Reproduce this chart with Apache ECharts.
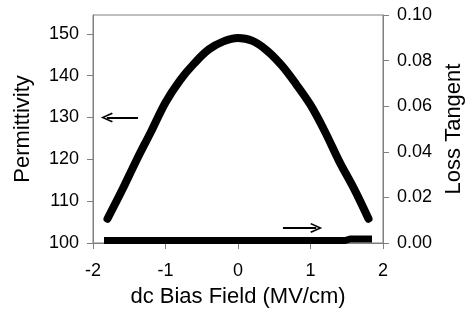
<!DOCTYPE html>
<html>
<head>
<meta charset="utf-8">
<script src="https://cdn.jsdelivr.net/npm/echarts@6/dist/echarts.min.js"></script>
<style>
  html, body { margin: 0; padding: 0; background: #ffffff; }
  #chart { width: 466px; height: 320px; }
</style>
</head>
<body>
<div id="chart"></div>
<script>
// dc bias field sweep (MV/cm) and measured permittivity
const biasField = [-1.8, -1.6, -1.4, -1.2, -1.0, -0.8, -0.6, -0.4, -0.2, 0.0,
                   0.2, 0.4, 0.6, 0.8, 1.0, 1.2, 1.4, 1.6, 1.8];
const permittivity = [105.8, 112.6, 119.8, 126.6, 133.6, 138.9, 143.0, 146.3, 148.2, 149.0,
                      148.3, 146.0, 142.5, 138.0, 133.0, 126.6, 119.4, 113.0, 105.8];

// loss tangent sweep
const lossField = [-1.8, -1.2, -0.6, 0.0, 0.6, 1.2, 1.4, 1.55, 1.8];
const lossTangent = [0.0011, 0.0011, 0.0011, 0.0011, 0.0011, 0.0011, 0.0011, 0.0018, 0.0018];

// tick labels
const fieldTicks = [-2, -1, 0, 1, 2];
const permTicks = [100, 110, 120, 130, 140, 150];
const lossTicks = [0, 0.02, 0.04, 0.06, 0.08, 0.10];

// arrow annotations pointing each curve to its axis
const permArrow = [[-1.81, 130], [-1.38, 130]];
const lossArrow = [[0.62, 0.0066], [1.08, 0.0066]];

const FONT = 'Liberation Sans, Arial, Helvetica, sans-serif';
const AXIS_GRAY = '#808080';
// open chevron arrowhead, pointing up in its own frame
const chevron = 'path://M0,11 L5,0 L10,11 L8.6,11.8 L5,3.6 L1.4,11.8 Z';

const chart = echarts.init(document.getElementById('chart'), null, { renderer: 'canvas' });

chart.setOption({
  animation: false,
  backgroundColor: '#ffffff',
  grid: {
    left: 93, right: 83, top: 15, bottom: 77,
    outerBoundsMode: 'none',
    containLabel: false,
    show: true, borderColor: AXIS_GRAY, borderWidth: 1, backgroundColor: 'transparent'
  },
  xAxis: {
    type: 'value',
    min: -2, max: 2, interval: 1,
    name: 'dc Bias Field (MV/cm)',
    nameLocation: 'middle',
    nameGap: 43,
    nameTextStyle: { fontFamily: FONT, fontSize: 22, color: '#000' },
    axisLine: { show: true, lineStyle: { color: AXIS_GRAY, width: 1 } },
    axisTick: { show: true, inside: false, length: 6, lineStyle: { color: AXIS_GRAY }, customValues: fieldTicks },
    axisLabel: {
      fontFamily: FONT, fontSize: 18, color: '#000', margin: 19,
      customValues: fieldTicks,
      formatter: v => String(v)
    },
    splitLine: { show: false }
  },
  yAxis: [
    {
      type: 'value',
      position: 'left',
      min: 100, max: 154.5,
      name: 'Permittivity',
      nameLocation: 'middle',
      nameRotate: 90,
      nameGap: 59,
      nameTextStyle: { fontFamily: FONT, fontSize: 22, color: '#000' },
      axisLine: { show: true, onZero: false, lineStyle: { color: AXIS_GRAY, width: 1 } },
      axisTick: { show: true, inside: false, length: 6, lineStyle: { color: AXIS_GRAY }, customValues: permTicks },
      axisLabel: {
        fontFamily: FONT, fontSize: 18, color: '#000', margin: 14,
        customValues: permTicks,
        formatter: v => String(v)
      },
      splitLine: { show: false }
    },
    {
      type: 'value',
      position: 'right',
      min: 0, max: 0.1,
      name: 'Loss Tangent',
      nameLocation: 'middle',
      nameRotate: 90,
      nameGap: 60,
      nameTextStyle: { fontFamily: FONT, fontSize: 22, color: '#000' },
      axisLine: { show: true, onZero: false, lineStyle: { color: AXIS_GRAY, width: 1 } },
      axisTick: { show: true, inside: false, length: 6, lineStyle: { color: AXIS_GRAY }, customValues: lossTicks },
      axisLabel: {
        fontFamily: FONT, fontSize: 18, color: '#000', margin: 14,
        customValues: lossTicks,
        formatter: v => v.toFixed(2)
      },
      splitLine: { show: false }
    }
  ],
  series: [
    {
      name: 'Permittivity',
      type: 'line',
      yAxisIndex: 0,
      data: biasField.map((x, i) => [x, permittivity[i]]),
      smooth: 0.35,
      showSymbol: false,
      lineStyle: { color: '#000', width: 8, cap: 'round', join: 'round' },
      silent: true,
      markLine: {
        silent: true,
        symbol: [chevron, 'none'],
        symbolSize: [10, 12],
        label: { show: false },
        lineStyle: { color: '#000', width: 2, type: 'solid' },
        emphasis: { disabled: true },
        data: [[{ coord: permArrow[0] }, { coord: permArrow[1] }]]
      }
    },
    {
      name: 'Loss Tangent',
      type: 'line',
      yAxisIndex: 1,
      data: lossField.map((x, i) => [x, lossTangent[i]]),
      step: 'middle',
      showSymbol: false,
      lineStyle: { color: '#000', width: 7, cap: 'square', join: 'miter' },
      silent: true,
      markLine: {
        silent: true,
        symbol: ['none', chevron],
        symbolSize: [10, 12],
        label: { show: false },
        lineStyle: { color: '#000', width: 2, type: 'solid' },
        emphasis: { disabled: true },
        data: [[{ coord: lossArrow[0] }, { coord: lossArrow[1] }]]
      }
    }
  ]
});
</script>
</body>
</html>
